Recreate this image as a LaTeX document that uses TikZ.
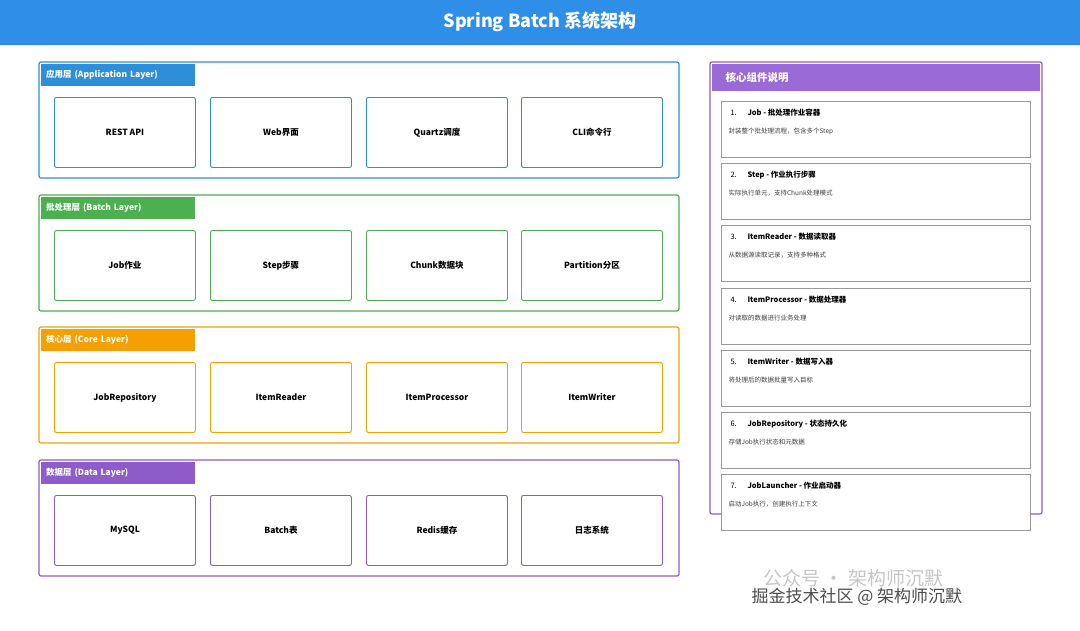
\documentclass[tikz,border=0pt]{standalone}
\usepackage{fontspec}
\setmainfont{Noto Sans CJK SC}
\usetikzlibrary{positioning}
\definecolor{appc}{HTML}{2E8FD8}
\definecolor{batc}{HTML}{4CAF50}
\definecolor{corc}{HTML}{F5A000}
\definecolor{datc}{HTML}{8E5CC8}
\definecolor{titc}{HTML}{2F8FE8}
\definecolor{hdrc}{HTML}{9A6BD6}
\tikzset{
  layer/.style={draw=#1,line width=1.2pt,rounded corners=2pt},
  tab/.style={fill=#1,text=white,font=\bfseries\fontsize{8.5}{9}\selectfont,anchor=north west,
    minimum width=154pt,minimum height=22pt,inner xsep=5pt,text width=144pt,align=left},
  comp/.style={draw=#1,line width=0.9pt,rounded corners=2pt,minimum width=141pt,minimum height=70pt,
    font=\bfseries\fontsize{8.5}{9}\selectfont,anchor=north west},
  item/.style={draw=gray!80,line width=0.7pt,minimum width=309pt,minimum height=56pt,anchor=north west}
}
\begin{document}
\begin{tikzpicture}[x=1pt,y=-1pt]
\useasboundingbox (0,0) rectangle (1080,630);
\fill[white] (0,0) rectangle (1080,630);
% title
\fill[titc] (0,0) rectangle (1080,45);
\node[text=white,font=\bfseries\fontsize{18}{20}\selectfont] (title) at (540,22) {Spring Batch 系统架构};
% layers
\foreach \c/\y/\lbl/\n/\a/\b/\cc/\d in {
  appc/62/应用层 (Application Layer)/app/REST API/Web界面/Quartz调度/CLI命令行,
  batc/195/批处理层 (Batch Layer)/bat/Job作业/Step步骤/Chunk数据块/Partition分区,
  corc/327/核心层 (Core Layer)/cor/JobRepository/ItemReader/ItemProcessor/ItemWriter,
  datc/460/数据层 (Data Layer)/dat/MySQL/Batch表/Redis缓存/日志系统}{
  \draw[layer=\c] (39,\y) rectangle (679,\y+116);
  \node[tab=\c] (\n-tab) at (41,\y+2) {\lbl};
  \node[comp=\c] (\n-1) at (54,\y+35) {\a};
  \node[comp=\c] (\n-2) at (210,\y+35) {\b};
  \node[comp=\c] (\n-3) at (366,\y+35) {\cc};
  \node[comp=\c] (\n-4) at (521,\y+35) {\d};
}
% right panel
\draw[layer=datc] (710,62) rectangle (1042,514);
\fill[hdrc] (712,64) rectangle (1040,91);
\node[anchor=west,text=white,font=\bfseries\fontsize{10.5}{12}\selectfont] (hdr) at (722,77.5) {核心组件说明};
\foreach \i/\y/\t/\s in {
  1/101/Job - 批处理作业容器/封装整个批处理流程，包含多个Step,
  2/163/Step - 作业执行步骤/实际执行单元，支持Chunk处理模式,
  3/225/ItemReader - 数据读取器/从数据源读取记录，支持多种格式,
  4/288/ItemProcessor - 数据处理器/对读取的数据进行业务处理,
  5/350/ItemWriter - 数据写入器/将处理后的数据批量写入目标,
  6/412/JobRepository - 状态持久化/存储Job执行状态和元数据,
  7/474/JobLauncher - 作业启动器/启动Job执行，创建执行上下文}{
  \node[item,fill=white] (it-\i) at (721,\y) {};
  \node[anchor=west,font=\fontsize{7.5}{8}\selectfont] (num-\i) at (727,\y+12) {\i.};
  \node[anchor=west,font=\bfseries\fontsize{7.5}{8}\selectfont] (tt-\i) at (744,\y+12) {\t};
  \node[anchor=west,text=black!75,font=\fontsize{6.5}{7}\selectfont] (ds-\i) at (725,\y+30) {\s};
}
% watermark
\node[anchor=west,text=gray!45,font=\fontsize{19}{22}\selectfont] (wm1) at (760,578) {公众号 · 架构师沉默};
\node[anchor=west,text=black!70,font=\fontsize{17}{20}\selectfont] (wm2) at (748,597) {掘金技术社区 @ 架构师沉默};
\end{tikzpicture}
\end{document}
